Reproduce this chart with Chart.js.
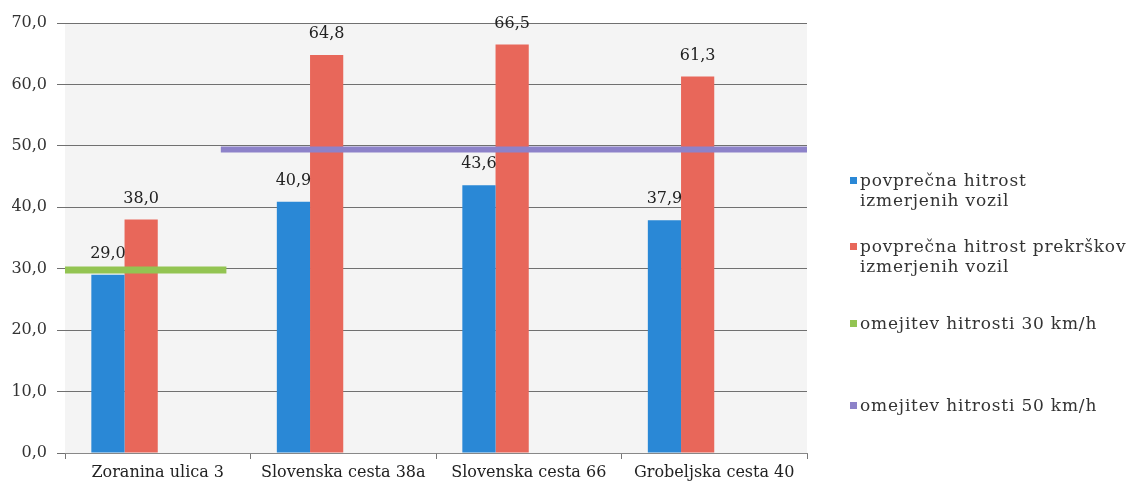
<!DOCTYPE html>
<html>
<head>
<meta charset="utf-8">
<script src="https://cdn.jsdelivr.net/npm/chart.js@4.4.1/dist/chart.umd.min.js"></script>
<style>
  html, body { margin:0; padding:0; background:#fff; }
  #wrap { position:relative; width:1135px; height:490px; }
  #c { position:absolute; left:0; top:0; }
  .lg { position:absolute; font-family:"DejaVu Serif",serif; font-size:17px; letter-spacing:0.8px; color:#333; line-height:20px; white-space:nowrap; }
  .lg i { position:absolute; left:-10px; top:7px; width:7px; height:7px; display:block; }
</style>
</head>
<body>
<div id="wrap">
  <canvas id="c" width="1135" height="490"></canvas>
</div>
<script>
const categories = ["Zoranina ulica 3", "Slovenska cesta 38a", "Slovenska cesta 66", "Grobeljska cesta 40"];
const avgSpeed = [29.0, 40.9, 43.6, 37.9];
const avgViolationSpeed = [38.0, 64.8, 66.5, 61.3];
const limit30 = [{x:-0.5, y:29.8}, {x:0.37, y:29.8}];
const limit50 = [{x:0.34, y:49.4}, {x:3.5, y:49.4}];
const yTicks = [0, 10, 20, 30, 40, 50, 60, 70];
const seriesNames = ["povprečna hitrost izmerjenih vozil", "povprečna hitrost prekrškov izmerjenih vozil", "omejitev hitrosti 30 km/h", "omejitev hitrosti 50 km/h"];
const colors = ["#2a88d6", "#e8675a", "#93c452", "#8d82c9"];

const fmt = v => v.toFixed(1).replace('.', ',');
const FONT = '"DejaVu Serif", serif';

const bgPlugin = {
  id: 'bg',
  beforeDraw(chart) {
    const {ctx, chartArea:a} = chart;
    ctx.save();
    ctx.fillStyle = '#f4f4f4';
    ctx.fillRect(a.left, a.top, a.right - a.left, a.bottom - a.top);
    ctx.restore();
  }
};
const labelPlugin = {
  id: 'vals',
  afterDatasetsDraw(chart) {
    const ctx = chart.ctx;
    ctx.save();
    ctx.font = '16px ' + FONT;
    ctx.fillStyle = '#222';
    ctx.textAlign = 'center';
    ctx.textBaseline = 'middle';
    [0, 1].forEach(di => {
      const meta = chart.getDatasetMeta(di);
      meta.data.forEach((el, i) => {
        const v = chart.data.datasets[di].data[i];
        ctx.fillText(fmt(v), el.x, el.y - 21);
      });
    });
    ctx.restore();
  }
};

new Chart(document.getElementById('c'), {
  type: 'bar',
  data: {
    labels: categories,
    datasets: [
      { label: seriesNames[0], data: avgSpeed, backgroundColor: colors[0], order: 2 },
      { label: seriesNames[1], data: avgViolationSpeed, backgroundColor: colors[1], order: 2 },
      { type: 'line', label: seriesNames[2], data: limit30, xAxisID: 'xl', borderColor: colors[2], borderWidth: 7, pointRadius: 0, order: 1, borderCapStyle: 'butt' },
      { type: 'line', label: seriesNames[3], data: limit50, xAxisID: 'xl', borderColor: colors[3], borderWidth: 6, pointRadius: 0, order: 1, borderCapStyle: 'butt' }
    ]
  },
  options: {
    responsive: false,
    animation: false,
    layout: { padding: { left: 0, right: 328, top: 23, bottom: 0 } },
    datasets: { bar: { categoryPercentage: 0.716, barPercentage: 1.0 } },
    plugins: { legend: { display: false }, tooltip: { enabled: false } },
    scales: {
      x: {
        offset: true,
        grid: { offset: true, drawOnChartArea: false, drawTicks: true, tickLength: 6, color: '#777' },
        border: { color: '#888', width: 1 },
        ticks: { color: '#222', font: { family: FONT, size: 16 }, padding: 4, maxRotation: 0 },
        afterFit(s) { s.height = 37; }
      },
      xl: { type: 'linear', display: false, offset: false, min: -0.5, max: 3.5, grid: { offset: false } },
      y: {
        min: 0, max: 70,
        afterBuildTicks(s) { s.ticks = yTicks.map(v => ({ value: v })); },
        grid: { color: '#707070', tickLength: 8, lineWidth: 1 },
        border: { display: false },
        ticks: { color: '#333', font: { family: FONT, size: 16 }, padding: 10, callback: v => fmt(v) },
        afterFit(s) { s.width = 65; }
      }
    }
  },
  plugins: [bgPlugin, labelPlugin]
});

// HTML legend
const wrap = document.getElementById('wrap');
const legendItems = [
  { top: 170, lines: ["povprečna hitrost", "izmerjenih vozil"] },
  { top: 236, lines: ["povprečna hitrost prekrškov", "izmerjenih vozil"] },
  { top: 313, lines: ["omejitev hitrosti 30 km/h"] },
  { top: 395, lines: ["omejitev hitrosti 50 km/h"] }
];
legendItems.forEach((it, i) => {
  const d = document.createElement('div');
  d.className = 'lg';
  d.style.left = '860px';
  d.style.top = it.top + 'px';
  const m = document.createElement('i');
  m.style.background = colors[i];
  d.appendChild(m);
  it.lines.forEach((t, k) => {
    if (k) d.appendChild(document.createElement('br'));
    d.appendChild(document.createTextNode(t));
  });
  wrap.appendChild(d);
});
</script>
</body>
</html>
